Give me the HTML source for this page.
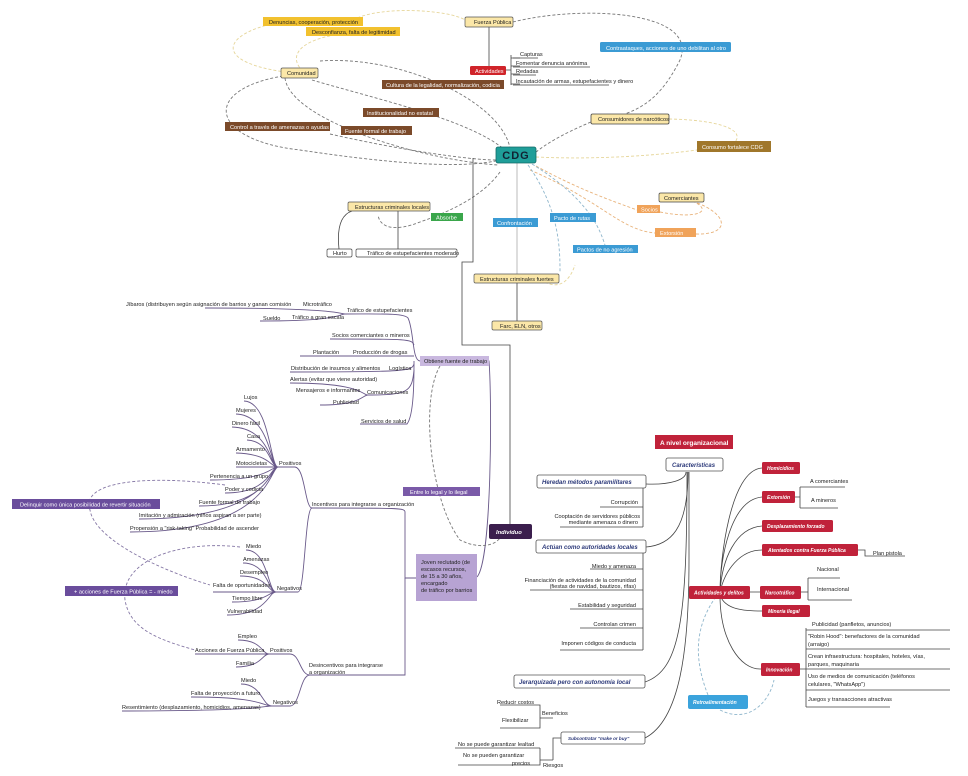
<!DOCTYPE html>
<html><head><meta charset="utf-8"><style>
html,body{margin:0;padding:0;background:#fff;}
svg{display:block;font-family:"Liberation Sans",sans-serif;}
.t{font-size:5.6px;fill:#222;}
.w{font-size:5.6px;fill:#fff;}
.wb{font-size:5.8px;fill:#fff;font-weight:bold;font-style:italic;}
.ln{stroke:#444;stroke-width:0.8;fill:none;}
.pl{stroke:#6a5a8a;stroke-width:0.9;fill:none;}
.ds{stroke:#777;stroke-width:0.9;fill:none;stroke-dasharray:3 2;}
.dy{stroke:#e6d69a;stroke-width:0.9;fill:none;stroke-dasharray:3 2;}
.do{stroke:#e8b27a;stroke-width:0.9;fill:none;stroke-dasharray:3 2;}
.db{stroke:#8fb6cc;stroke-width:0.9;fill:none;stroke-dasharray:3 2;}
.dp{stroke:#8577a5;stroke-width:0.9;fill:none;stroke-dasharray:3 2;}
</style></head><body>
<svg width="968" height="776" viewBox="0 0 968 776">
<path class="dy" d="M300,20 C230,25 200,60 285,72"/>
<path class="dy" d="M340,34 C300,40 290,55 300,68"/>
<path class="dy" d="M353,20 C380,5 450,10 465,20"/>
<path class="ds" d="M513,22 C580,5 700,10 680,60 C660,100 640,108 625,114"/>
<path class="ds" d="M283,76 C200,90 210,140 300,150 C380,162 460,170 500,160"/>
<path class="ds" d="M285,78 C290,120 420,160 498,165"/>
<path class="ds" d="M312,80 C380,100 470,120 505,150"/>
<path class="ds" d="M320,61 C400,55 500,100 510,148"/>
<path class="ds" d="M330,134 C400,150 470,160 496,160"/>
<path class="ds" d="M591,122 C560,135 545,145 536,152"/>
<path class="dy" d="M669,119 C720,120 745,130 735,142"/>
<path class="dy" d="M536,157 C600,160 660,155 697,150"/>
<path class="ds" d="M500,172 C480,200 440,215 420,222 C395,232 380,228 378,215"/>
<path class="do" d="M536,166 C580,190 610,200 637,210"/>
<path class="do" d="M530,170 C600,200 620,230 655,233"/>
<path class="do" d="M660,212 C700,220 715,210 690,200"/>
<path class="do" d="M696,234 C730,235 730,215 695,202"/>
<path class="db" d="M528,165 C560,210 560,250 560,273"/>
<path class="db" d="M532,164 C590,200 600,230 605,245"/>
<path class="dy" d="M545,282 C560,290 570,280 575,265"/>
<path class="ln" d="M473,158 V262 H462 V345 H510 V524"/>
<path stroke="#aaa" stroke-width="0.8" fill="none" d="M517,162 V274"/>
<path class="ln" stroke-width="1.2" d="M517,283 V321"/>
<path class="ln" stroke-width="1.2" d="M489,27 V66"/>
<path class="ln" d="M506,70 H511 M511,55 V85 M511,58 H520 M511,66 H520 M511,74 H520 M511,84 H520"/>
<path class="ln" d="M513,58 H538 M513,67 H590 M513,75 H536 M513,85 H609"/>
<path class="ln" stroke-width="1.1" d="M352,211 C340,215 337,230 339,249 M398,211 V249"/>
<rect x="263" y="17" width="100" height="9" fill="#f2c12e"/><text x="269" y="24" class="t">Denuncias, cooperación, protección</text>
<rect x="306" y="27" width="94" height="9" fill="#f2c12e"/><text x="312" y="34" class="t">Desconfianza, falta de legitimidad</text>
<rect x="465" y="17" width="48" height="10" rx="1.5" fill="#fbe7a8" stroke="#555" stroke-width="0.7"/><text x="474" y="24" class="t">Fuerza Pública</text>
<rect x="470" y="66" width="36" height="9" rx="1.5" fill="#d0242a"/><text x="475" y="73" class="w">Actividades</text>
<text x="520" y="56" class="t" font-size="4.5">Capturas</text>
<text x="516" y="65" class="t" font-size="4.5">Fomentar denuncia anónima</text>
<text x="516" y="73" class="t" font-size="4.5">Redadas</text>
<text x="516" y="83" class="t" font-size="4.5">Incautación de armas, estupefacientes y dinero</text>
<rect x="600" y="42" width="131" height="10" rx="1.5" fill="#3b9bd4"/><text x="606" y="50" class="w">Contraataques, acciones de uno debilitan al otro</text>
<rect x="281" y="68" width="37" height="10" rx="1.5" fill="#fbe7a8" stroke="#555" stroke-width="0.7"/><text x="287" y="75" class="t">Comunidad</text>
<rect x="382" y="80" width="122" height="9" fill="#7b4a2a"/><text x="386" y="87" class="w">Cultura de la legalidad, normalización, codicia</text>
<rect x="363" y="108" width="76" height="9" fill="#7b4a2a"/><text x="367" y="115" class="w">Institucionalidad no estatal</text>
<rect x="225" y="122" width="105" height="9" fill="#7b4a2a"/><text x="230" y="129" class="w">Control a través de amenazas o ayudas</text>
<rect x="341" y="126" width="71" height="9" fill="#7b4a2a"/><text x="345" y="133" class="w">Fuente formal de trabajo</text>
<rect x="591" y="114" width="78" height="10" rx="1.5" fill="#fbe7a8" stroke="#444" stroke-width="0.8"/><text x="598" y="121" class="t">Consumidores de narcóticos</text>
<rect x="697" y="141" width="74" height="11" fill="#a0772b"/><text x="702" y="149" class="w">Consumo fortalece CDG</text>
<rect x="496" y="147" width="40" height="16" rx="2" fill="#1f9e99" stroke="#146b68" stroke-width="0.8"/><text x="516" y="159" font-size="11" font-weight="bold" fill="#123" text-anchor="middle" letter-spacing="1">CDG</text>
<rect x="348" y="202" width="82" height="9" rx="1.5" fill="#fbe7a8" stroke="#555" stroke-width="0.7"/><text x="355" y="209" class="t">Estructuras criminales locales</text>
<rect x="431" y="213" width="32" height="8" fill="#3aa64b"/><text x="436" y="219.5" class="w">Absorbe</text>
<rect x="493" y="218" width="45" height="9" fill="#3b9bd4"/><text x="497" y="225" class="w">Confrontación</text>
<rect x="550" y="213" width="46" height="9" fill="#3b9bd4"/><text x="554" y="220" class="w">Pacto de rutas</text>
<rect x="659" y="193" width="45" height="9" rx="1.5" fill="#fbe7a8" stroke="#444" stroke-width="0.7"/><text x="664" y="200" class="t">Comerciantes</text>
<rect x="637" y="205" width="23" height="8" fill="#f0a35a"/><text x="641" y="211.5" class="w">Socios</text>
<rect x="655" y="228" width="41" height="9" fill="#f0a35a"/><text x="660" y="235" class="w">Extorsión</text>
<rect x="573" y="245" width="65" height="8" fill="#3b9bd4"/><text x="577" y="251.5" class="w">Pactos de no agresión</text>
<rect x="327" y="249" width="25" height="8" rx="1.5" fill="#fff" stroke="#444" stroke-width="0.7"/><text x="333" y="255" class="t">Hurto</text>
<rect x="356" y="249" width="101" height="8" rx="1.5" fill="#fff" stroke="#444" stroke-width="0.7"/><text x="367" y="255" class="t">Tráfico de estupefacientes moderado</text>
<rect x="474" y="274" width="85" height="9" rx="1.5" fill="#fbe7a8" stroke="#555" stroke-width="0.7"/><text x="480" y="281" class="t">Estructuras criminales fuertes</text>
<rect x="492" y="321" width="50" height="9" rx="1.5" fill="#fbe7a8" stroke="#555" stroke-width="0.7"/><text x="500" y="328" class="t">Farc, ELN, otros</text>

<g class="pl">
<path d="M420,361 C412,361 414,330 408,318 C404,313 380,314 345,314"/>
<path d="M414,361 C414,380 414,415 407,424 H360"/>
<path d="M414,345 C412,339 408,339 330,339"/>
<path d="M414,356 H300"/>
<path d="M414,364 C412,371 408,372 290,372"/>
<path d="M414,370 C412,392 408,395 368,395 M368,395 C362,395 362,383 290,383 M368,395 C362,395 362,405 320,405"/>
<path d="M345,314 C340,314 340,308 205,308 M345,314 C340,314 340,321 260,321"/>
<path d="M477,361 H489 C492,400 492,560 477,577"/>
<path d="M416,578 H405 V512 C405,508 400,508 312,508 C305,508 305,468 295,467 H278"/>
<path d="M278,467 C270,467 270,402 244,401 M278,467 C270,467 270,415 236,414 M278,467 C270,467 270,428 232,427 M278,467 C270,467 270,441 247,440 M278,467 C270,467 270,454 236,453 M278,467 H236 M278,467 C270,467 270,480 210,480 M278,467 C270,467 270,493 225,493 M278,467 C270,467 270,506 199,506 M278,467 C270,467 270,519 139,519 M278,467 C270,467 270,532 130,532"/>
<path d="M312,508 C305,508 305,592 298,592 H276"/>
<path d="M276,592 C268,592 268,550 246,550 M276,592 C268,592 268,563 243,563 M276,592 C268,592 268,576 240,576 M276,592 H213 M276,592 C268,592 268,602 232,602 M276,592 C268,592 268,615 227,615"/>
<path d="M405,578 V675 H310 C300,675 300,654 290,654 H269"/>
<path d="M269,654 C262,654 262,640 238,640 M269,654 H195 M269,654 C262,654 262,667 236,667"/>
<path d="M310,675 C300,675 300,706 290,706 H272"/>
<path d="M272,706 C262,706 262,684 241,684 M272,706 C262,706 262,697 191,697 M272,706 C262,706 262,711 122,711"/>
</g>
<g class="t">
<text x="347" y="312">Tráfico de estupefacientes</text>
<text x="303" y="306">Microtráfico</text>
<text x="126" y="306">Jíbaros (distribuyen según asignación de barrios y ganan comisión</text>
<text x="292" y="319">Tráfico a gran escala</text>
<text x="263" y="320">Sueldo</text>
<text x="332" y="337">Socios comerciantes o mineros</text>
<text x="313" y="354">Plantación</text><text x="353" y="354">Producción de drogas</text>
<text x="291" y="370">Distribución de insumos y alimentos</text><text x="389" y="370">Logística</text>
<text x="290" y="381">Alertas (evitar que viene autoridad)</text>
<text x="296" y="392">Mensajeros e informantes</text><text x="367" y="394">Comunicaciones</text>
<text x="333" y="404">Publicidad</text>
<text x="361" y="423">Servicios de salud</text>
<text x="244" y="399">Lujos</text>
<text x="236" y="412">Mujeres</text>
<text x="232" y="425">Dinero fácil</text>
<text x="247" y="438">Casa</text>
<text x="236" y="451">Armamento</text>
<text x="236" y="465">Motocicletas</text>
<text x="210" y="478">Pertenencia a un grupo</text>
<text x="225" y="491">Poder y codicia</text>
<text x="199" y="504">Fuente formal de trabajo</text>
<text x="139" y="517">Imitación y admiración (niños aspiran a ser parte)</text>
<text x="130" y="530">Propensión a "risk-taking" Probabilidad de ascender</text>
<text x="279" y="465">Positivos</text>
<text x="312" y="506">Incentivos para integrarse a organización</text>
<text x="246" y="548">Miedo</text>
<text x="243" y="561">Amenazas</text>
<text x="240" y="574">Desempleo</text>
<text x="213" y="587">Falta de oportunidades</text>
<text x="232" y="600">Tiempo libre</text>
<text x="227" y="613">Vulnerabilidad</text>
<text x="277" y="590">Negativos</text>
<text x="238" y="638">Empleo</text>
<text x="195" y="652">Acciones de Fuerza Pública</text>
<text x="236" y="665">Familia</text>
<text x="270" y="652">Positivos</text>
<text x="309" y="667">Desincentivos para integrarse</text>
<text x="309" y="674">a organización</text>
<text x="241" y="682">Miedo</text>
<text x="191" y="695">Falta de proyección a futuro</text>
<text x="122" y="709">Resentimiento (desplazamiento, homicidios, amenazas)</text>
<text x="273" y="704">Negativos</text>
</g>
<path class="dp" d="M225,485 C150,475 80,480 90,510 C95,540 160,570 210,585"/>
<path class="dp" d="M240,547 C180,540 120,560 125,600 C130,630 160,640 195,650"/>
<path class="ds" d="M440,366 C420,400 430,500 460,540 C480,550 495,545 500,538"/>
<rect x="420" y="356" width="69" height="10" fill="#c9b8df"/><text x="424" y="363" class="t">Obtiene fuente de trabajo</text>
<rect x="403" y="487" width="77" height="9" fill="#7a5aa8"/><text x="410" y="494" class="w">Entre lo legal y lo ilegal</text>
<rect x="489" y="524" width="43" height="15" rx="2" fill="#3b1e4d"/><text x="496" y="534" class="wb">Individuo</text>
<rect x="416" y="554" width="61" height="47" fill="#b7a3d3"/>
<g class="t" font-size="5.3"><text x="421" y="564">Joven reclutado (de</text><text x="421" y="571">escasos recursos,</text><text x="421" y="578">de 15 a 30 años,</text><text x="421" y="585">encargado</text><text x="421" y="592">de tráfico por barrios</text></g>
<rect x="12" y="499" width="148" height="10" fill="#6a4d9c"/><text x="20" y="506.5" class="w">Delinquir como única posibilidad de revertir situación</text>
<rect x="65" y="586" width="113" height="10" fill="#6a4d9c"/><text x="74" y="593.5" class="w">+ acciones de Fuerza Pública = - miedo</text>

<g class="ln">
<path d="M689,472 V560 C689,650 680,720 645,738"/>
<path d="M686,472 C686,480 670,485 646,484"/>
<path d="M688,472 C688,530 670,545 646,547"/>
<path d="M687,472 C687,620 680,670 645,682"/>
<path d="M643,488 V527 M600,507 H643 M560,527 H643"/>
<path d="M643,553 V650 M590,569 H643 M530,590 H643 M570,609 H643 M580,628 H643 M560,650 H643"/>
<path d="M561,738 H553 V760 M553,718 H540 V728 H500 M540,718 V705 H500 M553,760 H540 M540,748 H455 M540,748 V765 H458"/>
<path d="M720,592 C720,560 730,470 762,468 M720,592 C720,560 730,500 762,497 M720,592 C722,560 735,528 762,526 M720,592 C725,570 740,550 762,550 M750,592 H760 M720,595 C725,610 745,611 762,611 M720,595 C720,640 740,670 761,669"/>
<path d="M795,497 H800 M800,487 V508 M800,487 H845 M800,508 H838"/>
<path d="M858,550 H865 V556 H905"/>
<path d="M801,592 H808 M808,578 V600 M808,578 H840 M808,600 H852"/>
<path d="M800,669 H806 M806,628 V707 M806,630 H950 M806,649 H950 M806,669 H950 M806,690 H950 M806,707 H890"/>
</g>
<path class="db" d="M708,695 C690,650 700,620 715,598"/>
<path class="db" d="M720,710 C750,725 770,700 774,680"/>
<rect x="655" y="435" width="78" height="14" fill="#c0223a"/><text x="660" y="445" font-size="6.5" font-weight="bold" fill="#fff">A nivel organizacional</text>
<rect x="666" y="458" width="57" height="13" rx="2" fill="#fff" stroke="#555" stroke-width="0.8"/><text x="672" y="467" font-size="6" font-style="italic" font-weight="bold" fill="#2d3a7a">Características</text>
<g font-size="6" font-style="italic" font-weight="bold" fill="#2d3a7a">
<rect x="537" y="475" width="109" height="13" rx="2" fill="#fff" stroke="#555" stroke-width="0.8"/><text x="542" y="484">Heredan métodos paramilitares</text>
<rect x="536" y="540" width="110" height="13" rx="2" fill="#fff" stroke="#555" stroke-width="0.8"/><text x="542" y="549">Actúan como autoridades locales</text>
<rect x="514" y="675" width="131" height="13" rx="2" fill="#fff" stroke="#555" stroke-width="0.8"/><text x="519" y="684">Jerarquizada pero con autonomía local</text>
<rect x="561" y="732" width="84" height="12" rx="2" fill="#fff" stroke="#555" stroke-width="0.8"/><text x="568" y="740" font-size="4.6">Subcontratar "make or buy"</text>
</g>
<g class="t" text-anchor="end">
<text x="638" y="504">Corrupción</text>
<text x="640" y="518">Cooptación de servidores públicos</text>
<text x="638" y="524">mediante amenaza o dinero</text>
<text x="636" y="568">Miedo y amenaza</text>
<text x="636" y="582">Financiación de actividades de la comunidad</text>
<text x="636" y="588">(fiestas de navidad, bautizos, rifas)</text>
<text x="636" y="607">Estabilidad y seguridad</text>
<text x="636" y="626">Controlan crimen</text>
<text x="636" y="645">Imponen códigos de conducta</text>
</g>
<g class="t">
<text x="497" y="704">Reducir costos</text>
<text x="542" y="715">Beneficios</text>
<text x="502" y="722">Flexibilizar</text>
<text x="458" y="746">No se puede garantizar lealtad</text>
<text x="463" y="757">No se pueden garantizar</text>
<text x="512" y="765">precios</text>
<text x="543" y="767">Riesgos</text>
<text x="810" y="483">A comerciantes</text>
<text x="811" y="502">A mineros</text>
<text x="873" y="555">Plan pistola</text>
<text x="817" y="571">Nacional</text>
<text x="817" y="591">Internacional</text>
<text x="812" y="626">Publicidad (panfletos, anuncios)</text>
<text x="808" y="638">"Robin Hood": benefactores de la comunidad</text>
<text x="808" y="646">(arraigo)</text>
<text x="808" y="658">Crean infraestructura: hospitales, hoteles, vías,</text>
<text x="808" y="666">parques, maquinaria</text>
<text x="808" y="678">Uso de medios de comunicación (teléfonos</text>
<text x="808" y="686">celulares, "WhatsApp")</text>
<text x="808" y="701">Juegos y transacciones atractivas</text>
</g>
<g font-size="5" font-weight="bold" font-style="italic" fill="#fff">
<rect x="762" y="462" width="38" height="12" rx="1.5" fill="#c0223a"/><text x="767" y="470">Homicidios</text>
<rect x="762" y="491" width="33" height="12" rx="1.5" fill="#c0223a"/><text x="767" y="499">Extorsión</text>
<rect x="762" y="520" width="71" height="12" rx="1.5" fill="#c0223a"/><text x="767" y="528">Desplazamiento forzado</text>
<rect x="762" y="544" width="96" height="12" rx="1.5" fill="#c0223a"/><text x="768" y="552">Atentados contra Fuerza Pública</text>
<rect x="689" y="586" width="61" height="13" rx="1.5" fill="#c0223a"/><text x="694" y="594.5">Actividades y delitos</text>
<rect x="760" y="586" width="41" height="13" rx="1.5" fill="#c0223a"/><text x="765" y="594.5">Narcotráfico</text>
<rect x="762" y="605" width="48" height="12" rx="1.5" fill="#c0223a"/><text x="768" y="613">Minería ilegal</text>
<rect x="761" y="663" width="39" height="13" rx="1.5" fill="#c0223a"/><text x="766" y="671.5">Innovación</text>
<rect x="688" y="695" width="60" height="14" rx="2" fill="#3ba3dc"/><text x="693" y="704">Retroalimentación</text>
</g>
</svg>
</body></html>
